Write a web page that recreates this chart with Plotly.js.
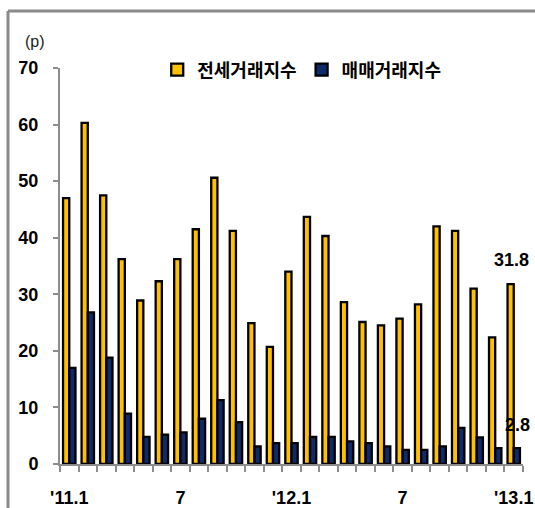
<!DOCTYPE html>
<html>
<head>
<meta charset="utf-8">
<script src="https://cdn.plot.ly/plotly-3.0.1.min.js"></script>
<style>
  html, body { margin: 0; padding: 0; background: #ffffff; }
  #chart { width: 535px; height: 508px; }
</style>
</head>
<body>
<div id="chart"></div>
<script>
// Monthly transaction indices, Jan 2011 – Jan 2013
const months = [
  '2011-01','2011-02','2011-03','2011-04','2011-05','2011-06','2011-07','2011-08','2011-09','2011-10','2011-11','2011-12',
  '2012-01','2012-02','2012-03','2012-04','2012-05','2012-06','2012-07','2012-08','2012-09','2012-10','2012-11','2012-12',
  '2013-01'
];
const monthLabels = [
  "'11.1",'','','','','','7','','','','','',
  "'12.1",'','','','','','7','','','','','',
  "'13.1"
];
const jeonseIndex = [47.0, 60.3, 47.5, 36.2, 28.9, 32.3, 36.2, 41.5, 50.6, 41.2, 24.9, 20.7,
                     34.0, 43.7, 40.3, 28.6, 25.1, 24.5, 25.7, 28.2, 42.0, 41.2, 31.0, 22.4, 31.8];
const saleIndex   = [17.0, 26.8, 18.8, 8.9, 4.8, 5.2, 5.6, 8.0, 11.3, 7.4, 3.1, 3.7,
                     3.7, 4.8, 4.8, 4.0, 3.7, 3.1, 2.5, 2.5, 3.1, 6.4, 4.7, 2.8, 2.8];
const seriesNames = ['전세거래지수', '매매거래지수'];
const yTicks = [0, 10, 20, 30, 40, 50, 60, 70];

const NUM_FONT = "'Liberation Sans', Arial, sans-serif";
const KR_FONT = "'Noto Sans CJK KR', sans-serif";
const AXIS_GRAY = '#8c8c8c';

const last = months.length - 1;

const traces = [
  {
    type: 'bar', name: seriesNames[0], x: months, y: jeonseIndex,
    marker: { color: '#FFC000', line: { color: '#000000', width: 2.3 } },
    hoverinfo: 'x+y'
  },
  {
    type: 'bar', name: seriesNames[1], x: months, y: saleIndex,
    marker: { color: '#0D2A6A', line: { color: '#000000', width: 2.3 } },
    hoverinfo: 'x+y'
  }
];

const layout = {
  width: 535, height: 508,
  margin: { l: 60, r: 12, t: 68, b: 44 },
  paper_bgcolor: '#ffffff', plot_bgcolor: '#ffffff',
  barmode: 'group', bargap: 0.33, bargroupgap: 0,
  showlegend: true,
  legend: {
    orientation: 'h', x: 0.21, xanchor: 'left', y: 0.995, yanchor: 'middle',
    font: { family: KR_FONT, size: 18, color: '#000000', weight: 'bold' },
    bgcolor: 'rgba(0,0,0,0)', traceorder: 'normal'
  },
  xaxis: {
    type: 'category', range: [-0.5, months.length - 0.5], autorange: false,
    tickmode: 'array', tickvals: months, ticktext: monthLabels,
    tickson: 'boundaries', ticks: 'outside', ticklen: 6, tickwidth: 2, tickcolor: AXIS_GRAY,
    tickangle: 0, automargin: false,
    showline: true, linecolor: AXIS_GRAY, linewidth: 2, showgrid: false, zeroline: false,
    tickfont: { family: NUM_FONT, size: 18, color: '#000000', weight: 'bold' },
    ticklabelstandoff: 16, fixedrange: true
  },
  yaxis: {
    range: [0, 70], autorange: false, tickmode: 'array', tickvals: yTicks, automargin: false,
    ticks: 'outside', ticklen: 5, tickwidth: 2, tickcolor: AXIS_GRAY,
    showline: true, linecolor: AXIS_GRAY, linewidth: 2, showgrid: false, zeroline: false,
    tickfont: { family: NUM_FONT, size: 18, color: '#000000', weight: 'bold' },
    ticklabelstandoff: 11, fixedrange: true
  },
  annotations: [
    {
      text: '(p)', xref: 'paper', yref: 'paper', x: -0.054, y: 1.068,
      xanchor: 'center', yanchor: 'middle', showarrow: false,
      font: { family: NUM_FONT, size: 16, color: '#222222' }
    },
    {
      text: jeonseIndex[last].toFixed(1), x: months[last], y: jeonseIndex[last],
      xanchor: 'center', yanchor: 'middle', xshift: -2, yshift: 24, showarrow: false,
      font: { family: NUM_FONT, size: 18, color: '#000000', weight: 'bold' }
    },
    {
      text: saleIndex[last].toFixed(1), x: months[last], y: saleIndex[last],
      xanchor: 'center', yanchor: 'middle', xshift: 3.5, yshift: 23, showarrow: false,
      font: { family: NUM_FONT, size: 18, color: '#000000', weight: 'bold' }
    }
  ],
  shapes: [
    // outer frame (left and top edges)
    { type: 'line', xref: 'paper', yref: 'paper', x0: -0.1123, x1: -0.1123, y0: -0.2, y1: 1.1439,
      line: { color: '#8a8a8a', width: 3 } },
    { type: 'line', xref: 'paper', yref: 'paper', x0: -0.1123, x1: 1.2, y0: 1.1439, y1: 1.1439,
      line: { color: '#8a8a8a', width: 3 } }
  ]
};

Plotly.newPlot('chart', traces, layout, { displayModeBar: false, staticPlot: true });
</script>
</body>
</html>
